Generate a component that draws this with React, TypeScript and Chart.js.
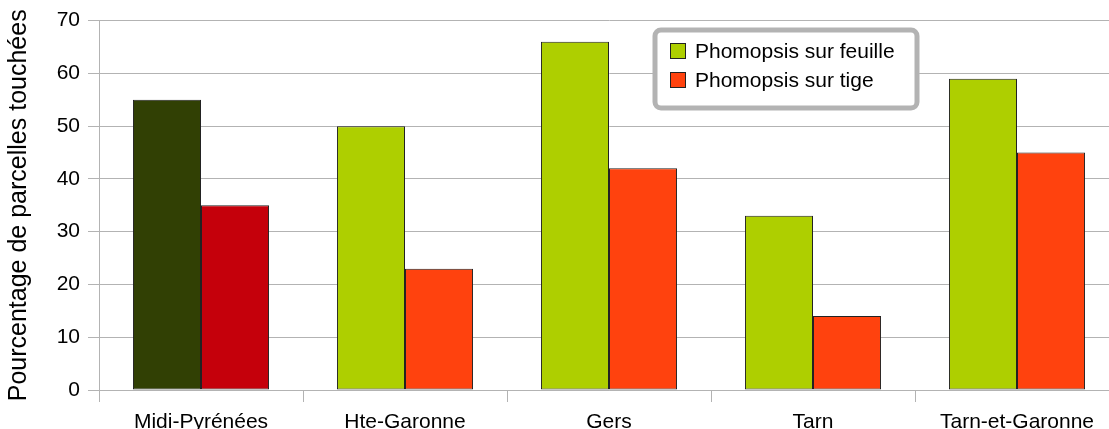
import React, { useEffect, useRef } from "react";
import { Chart, registerables } from "chart.js";

Chart.register(...registerables);

const categories = ["Midi-Pyrénées", "Hte-Garonne", "Gers", "Tarn", "Tarn-et-Garonne"];
const feuilleValues = [55, 50, 66, 33, 59];
const tigeValues = [35, 23, 42, 14, 45];
const seriesLabels = ["Phomopsis sur feuille", "Phomopsis sur tige"];
const yTitle = "Pourcentage de parcelles touchées";

const GREEN = "#aecf00";
const ORANGE = "#ff420e";
const DARK_GREEN = "#314004";
const DARK_RED = "#c5000b";
const GRID = "#b3b3b3";
const FONT = "'Liberation Sans', Arial, sans-serif";

const legendPlugin = {
  id: "boxLegend",
  afterDraw(chart: any) {
    const ctx = chart.ctx;
    const x = 655, y = 30, w = 262, h = 78, r = 6;
    ctx.save();
    ctx.beginPath();
    ctx.roundRect(x, y, w, h, r);
    ctx.fillStyle = "#ffffff";
    ctx.fill();
    ctx.lineWidth = 5;
    ctx.strokeStyle = GRID;
    ctx.stroke();
    const colors = [GREEN, ORANGE];
    chart.data.datasets.forEach((ds: any, i: number) => {
      const sy = 43 + i * 29;
      ctx.fillStyle = colors[i];
      ctx.fillRect(670, sy, 16, 16);
      ctx.lineWidth = 1;
      ctx.strokeStyle = "#222222";
      ctx.strokeRect(670.5, sy + 0.5, 15, 15);
      ctx.fillStyle = "#000000";
      ctx.font = `21px ${FONT}`;
      ctx.textBaseline = "middle";
      ctx.textAlign = "left";
      ctx.fillText(ds.label, 695, sy + 9);
    });
    ctx.restore();
  },
};

export default function App() {
  const ref = useRef<HTMLCanvasElement>(null);
  useEffect(() => {
    if (!ref.current) return;
    const chart = new Chart(ref.current, {
      type: "bar",
      data: {
        labels: categories,
        datasets: [
          {
            label: seriesLabels[0],
            data: feuilleValues,
            backgroundColor: feuilleValues.map((_, i) => (i === 0 ? DARK_GREEN : GREEN)),
            borderColor: "#222222",
            borderWidth: 1,
            borderSkipped: false,
            categoryPercentage: 0.667,
            barPercentage: 1.0,
          },
          {
            label: seriesLabels[1],
            data: tigeValues,
            backgroundColor: tigeValues.map((_, i) => (i === 0 ? DARK_RED : ORANGE)),
            borderColor: "#222222",
            borderWidth: 1,
            borderSkipped: false,
            categoryPercentage: 0.667,
            barPercentage: 1.0,
          },
        ],
      },
      options: {
        responsive: false,
        animation: false,
        devicePixelRatio: 1,
        layout: { padding: { top: 20, right: 1, left: 0, bottom: 0 } },
        plugins: {
          legend: { display: false },
          tooltip: { enabled: false },
        },
        scales: {
          x: {
            grid: {
              offset: true,
              drawOnChartArea: false,
              tickLength: 12,
              color: GRID,
            },
            border: { color: GRID },
            ticks: {
              color: "#000000",
              font: { family: FONT, size: 21 },
              padding: 8,
              maxRotation: 0,
              autoSkip: false,
            },
            afterFit(scale: any) {
              scale.height = 39;
            },
          },
          y: {
            min: 0,
            max: 70,
            ticks: {
              stepSize: 10,
              color: "#000000",
              font: { family: FONT, size: 21 },
              padding: 8,
            },
            grid: { color: GRID, tickLength: 11 },
            border: { color: GRID },
            title: {
              display: true,
              text: yTitle,
              color: "#000000",
              font: { family: FONT, size: 25 },
              padding: { top: 4, bottom: 0 },
            },
            afterFit(scale: any) {
              scale.width = 99;
            },
          },
        },
      },
      plugins: [legendPlugin],
    });
    return () => chart.destroy();
  }, []);
  return (
    <div
      style={{
        position: "fixed",
        left: 0,
        top: 0,
        width: 1109,
        height: 429,
        overflow: "hidden",
        background: "#ffffff",
      }}
    >
      <canvas ref={ref} width={1120} height={429} style={{ display: "block" }} />
    </div>
  );
}
